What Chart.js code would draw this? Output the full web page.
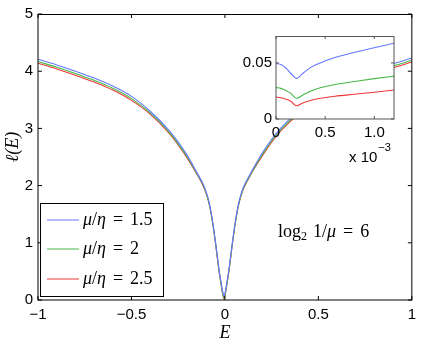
<!DOCTYPE html>
<html>
<head>
<meta charset="UTF-8">
<title>l(E)</title>
<style>
  body { margin: 0; background: #fff; }
  #wrap { position: relative; width: 422px; height: 340px; }
  #main { position: absolute; left: 0; top: 0; }
  #inset { position: absolute; left: 236px; top: 23px; }
</style>
</head>
<body>
<div id="wrap">
  <canvas id="main" width="422" height="340"></canvas>
  <canvas id="inset" width="180" height="145"></canvas>
</div>
<script src="https://cdn.jsdelivr.net/npm/chart.js"></script>
<script>
// main plot, values
const energy = [-1, -0.9, -0.8, -0.7, -0.6, -0.5, -0.4, -0.3, -0.25, -0.2,
  -0.15, -0.12, -0.1, -0.09, -0.08, -0.07, -0.06, -0.05, -0.04, -0.03, -0.02, -0.01, -0.005,
  0,
  0.005, 0.01, 0.02, 0.03, 0.04, 0.05, 0.06, 0.07, 0.08, 0.09, 0.1, 0.12, 0.15,
  0.2, 0.25, 0.3, 0.4, 0.5, 0.6, 0.7, 0.8, 0.9, 1];
const ellBlue = [4.21, 4.11, 4.00, 3.88, 3.74, 3.56, 3.30, 2.97, 2.76, 2.52,
  2.23, 2.05, 1.89, 1.78, 1.64, 1.46, 1.25, 1.01, 0.75, 0.50, 0.30, 0.12, 0.07,
  0.11,
  0.20, 0.30, 0.50, 0.75, 1.01, 1.25, 1.46, 1.64, 1.78, 1.89, 1.98, 2.11, 2.29,
  2.57, 2.81, 3.01, 3.32, 3.57, 3.75, 3.89, 4.02, 4.13, 4.23];
const ellGreen = [4.17, 4.07, 3.96, 3.84, 3.70, 3.52, 3.27, 2.94, 2.73, 2.49,
  2.21, 2.03, 1.87, 1.76, 1.62, 1.44, 1.23, 0.99, 0.73, 0.48, 0.27, 0.08, 0.03,
  0.08,
  0.17, 0.27, 0.48, 0.73, 0.99, 1.23, 1.44, 1.62, 1.76, 1.87, 1.96, 2.09, 2.27,
  2.54, 2.78, 2.98, 3.29, 3.53, 3.71, 3.85, 3.98, 4.09, 4.19];
const ellRed = [4.14, 4.04, 3.93, 3.81, 3.67, 3.49, 3.25, 2.92, 2.71, 2.47,
  2.20, 2.02, 1.86, 1.75, 1.61, 1.43, 1.22, 0.98, 0.72, 0.47, 0.26, 0.07, 0.02,
  0.07,
  0.16, 0.26, 0.47, 0.72, 0.98, 1.22, 1.43, 1.61, 1.75, 1.86, 1.95, 2.08, 2.26,
  2.52, 2.76, 2.96, 3.27, 3.50, 3.68, 3.82, 3.95, 4.06, 4.16];
const seriesLabels = ['μ/η = 1.5', 'μ/η = 2', 'μ/η = 2.5'];
const xTicks = [-1, -0.5, 0, 0.5, 1];
const yTicks = [0, 1, 2, 3, 4, 5];

// inset, E in units of 1e-3
const insetE = [0, 0.05, 0.1, 0.15, 0.21, 0.27, 0.35, 0.45, 0.6, 0.8, 1.0, 1.2];
const insetBlue = [0.0495, 0.0485, 0.0455, 0.0408, 0.0362, 0.0405, 0.0458, 0.0500, 0.0548, 0.0595, 0.0635, 0.0675];
const insetGreen = [0.0282, 0.0273, 0.0255, 0.0228, 0.0185, 0.0212, 0.0248, 0.0278, 0.0308, 0.0335, 0.0360, 0.0382];
const insetRed = [0.0196, 0.0190, 0.0177, 0.0158, 0.0118, 0.0142, 0.0165, 0.0185, 0.0203, 0.0221, 0.0239, 0.0259];
const insetXTicks = [0, 0.5, 1];
const insetYTicks = [0, 0.05];

const colors = ['rgb(100,118,255)', 'rgb(70,185,70)', 'rgb(240,55,55)'];
const sans = '"Liberation Sans", Arial, sans-serif';
const serif = '"Liberation Serif", "DejaVu Serif", serif';

function pts(xs, ys) { return xs.map((x, i) => ({ x: x, y: ys[i] })); }
function minus(v) { return String(v).replace('-', '\u2212'); }

function makeSets(xs, lists) {
  return lists.map((ys, i) => ({
    label: seriesLabels[i],
    data: pts(xs, ys),
    borderColor: colors[i],
    borderWidth: 1.1,
    pointRadius: 0,
    fill: false,
    cubicInterpolationMode: 'monotone'
  }));
}

// box with inward ticks, matlab style
const boxPlugin = {
  id: 'box',
  beforeDatasetsDraw(chart, args, opts) {
    if (!opts.fill) return;
    const a = chart.chartArea, ctx = chart.ctx;
    ctx.save();
    ctx.fillStyle = opts.fill;
    ctx.fillRect(a.left, a.top, a.right - a.left, a.bottom - a.top);
    ctx.restore();
  },
  afterDatasetsDraw(chart, args, opts) {
    const a = chart.chartArea, ctx = chart.ctx;
    const len = opts.tick || 4;
    ctx.save();
    ctx.strokeStyle = opts.color || '#000';
    ctx.lineWidth = 1;
    ctx.beginPath();
    chart.scales.x.ticks.forEach(t => {
      const px = chart.scales.x.getPixelForValue(t.value);
      ctx.moveTo(px, a.bottom); ctx.lineTo(px, a.bottom - len);
      ctx.moveTo(px, a.top); ctx.lineTo(px, a.top + len);
    });
    chart.scales.y.ticks.forEach(t => {
      const py = chart.scales.y.getPixelForValue(t.value);
      ctx.moveTo(a.left, py); ctx.lineTo(a.left + len, py);
      ctx.moveTo(a.right, py); ctx.lineTo(a.right - len, py);
    });
    ctx.stroke();
    ctx.strokeRect(a.left, a.top + 0.5, a.right - a.left, a.bottom - a.top - 0.5);
    ctx.restore();
  }
};

// draw pieces of text one after another: [text, font, dy, gapAfter]
function drawRuns(ctx, x, y, runs) {
  runs.forEach(r => {
    ctx.font = r[1];
    ctx.fillText(r[0], x, y + (r[2] || 0));
    x += ctx.measureText(r[0]).width + (r[3] || 0);
  });
}

const legendPlugin = {
  id: 'texLegend',
  afterDraw(chart) {
    const ctx = chart.ctx;
    const it = 'italic 18px ' + serif, rm = '18px ' + serif;
    ctx.save();
    ctx.fillStyle = '#fff';
    ctx.fillRect(40, 203, 123, 93);
    ctx.strokeStyle = '#000';
    ctx.lineWidth = 1;
    ctx.strokeRect(40.5, 203.5, 123, 93);
    ctx.textBaseline = 'middle';
    const rows = [220, 249, 279];
    chart.data.datasets.forEach((ds, i) => {
      const y = rows[i];
      ctx.strokeStyle = ds.borderColor;
      ctx.beginPath(); ctx.moveTo(47, y); ctx.lineTo(79, y); ctx.stroke();
      const val = ds.label.split(' = ')[1];
      ctx.fillStyle = '#000';
      drawRuns(ctx, 83, y, [
        ['μ', it], ['/', rm], ['η', it, 0, 7], ['=', rm, 0, 7], [val, rm]
      ]);
    });
    // log2 1/mu = 6
    drawRuns(ctx, 278, 232, [
      ['log', rm], ['2', '12px ' + serif, 5, 6],
      ['1/', rm], ['μ', it, 0, 7], ['=', rm, 0, 7], ['6', rm]
    ]);
    // y label
    ctx.translate(13, 147);
    ctx.rotate(-Math.PI / 2);
    ctx.textAlign = 'center';
    ctx.font = it;
    ctx.fillText('ℓ(E)', 0, 0);
    ctx.restore();
  }
};

new Chart(document.getElementById('main'), {
  type: 'line',
  data: { datasets: makeSets(energy, [ellBlue, ellGreen, ellRed]) },
  options: {
    responsive: false,
    animation: false,
    layout: { padding: { top: 13, right: 9, left: 0, bottom: 0 } },
    plugins: {
      legend: { display: false },
      tooltip: { enabled: false },
      box: { tick: 4, color: '#000' }
    },
    scales: {
      x: {
        type: 'linear', min: -1, max: 1,
        afterBuildTicks: s => { s.ticks = xTicks.map(v => ({ value: v })); },
        afterFit: s => { s.height = 40; },
        grid: { display: false, drawTicks: false },
        border: { display: false },
        ticks: { color: '#000', font: { family: sans, size: 15 }, padding: 6, maxRotation: 0,
                 callback: v => minus(v) },
        title: { display: true, text: 'E', color: '#000', padding: { top: 0, bottom: -4 },
                 font: { family: serif, style: 'italic', size: 18 } }
      },
      y: {
        min: 0, max: 5,
        afterBuildTicks: s => { s.ticks = yTicks.map(v => ({ value: v })); },
        afterFit: s => { s.width = 38; },
        grid: { display: false, drawTicks: false },
        border: { display: false },
        ticks: { color: '#000', font: { family: sans, size: 15 }, padding: 5 }
      }
    }
  },
  plugins: [boxPlugin, legendPlugin]
});

const insetLabel = {
  id: 'insetLabel',
  afterDraw(chart) {
    const ctx = chart.ctx;
    ctx.save();
    ctx.fillStyle = '#000';
    ctx.textBaseline = 'middle';
    drawRuns(ctx, 113, 135, [['x 10', '15px ' + sans, 0, 1], ['\u22123', '11px ' + sans, -10]]);
    ctx.restore();
  }
};

new Chart(document.getElementById('inset'), {
  type: 'line',
  data: { datasets: makeSets(insetE, [insetBlue, insetGreen, insetRed]) },
  options: {
    responsive: false,
    animation: false,
    layout: { padding: { top: 10, right: 22, left: 0, bottom: 0 } },
    plugins: {
      legend: { display: false },
      tooltip: { enabled: false },
      box: { tick: 3, color: '#555', fill: '#fff' }
    },
    scales: {
      x: {
        type: 'linear', min: 0, max: 1.2,
        afterBuildTicks: s => { s.ticks = insetXTicks.map(v => ({ value: v })); },
        afterFit: s => { s.height = 49; },
        grid: { display: false, drawTicks: false },
        border: { display: false },
        ticks: { color: '#000', font: { family: sans, size: 15 }, padding: 5, maxRotation: 0 }
      },
      y: {
        min: 0, max: 0.074,
        afterBuildTicks: s => { s.ticks = insetYTicks.map(v => ({ value: v })); },
        afterFit: s => { s.width = 40; },
        grid: { display: false, drawTicks: false },
        border: { display: false },
        ticks: { color: '#000', font: { family: sans, size: 15 }, padding: 4 }
      }
    }
  },
  plugins: [boxPlugin, insetLabel]
});
</script>
</body>
</html>
